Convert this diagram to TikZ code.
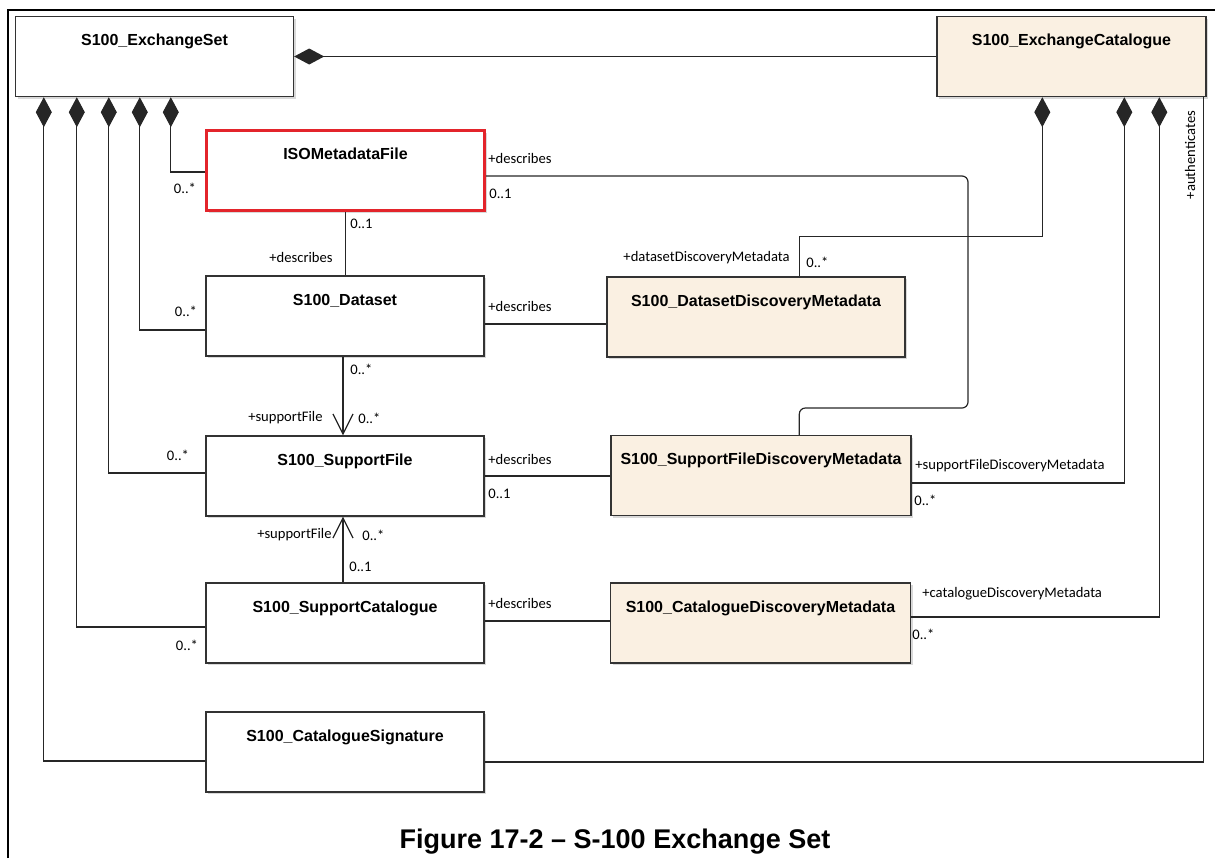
\documentclass[tikz,border=0pt]{standalone}
\usepackage{fontspec}
\setmainfont{Liberation Sans}
\newfontfamily\lblfont{Carlito}
\usetikzlibrary{arrows.meta,calc,shadows}
\definecolor{umlbeige}{HTML}{FAF0E2}
\definecolor{umlred}{HTML}{E3242B}
\tikzset{
	cls/.style={draw=black!80, line width=0.7pt, fill=white, inner xsep=0pt, inner ysep=0pt,
		text height=14.5pt, text depth=25.5pt, minimum width=139pt,
		font=\fontsize{8}{9}\selectfont\bfseries,
		drop shadow={shadow xshift=1.2pt, shadow yshift=-1.2pt, fill=black!15, opacity=1}},
	meta/.style={cls, fill=umlbeige},
	rel/.style={line width=0.6pt, draw=black!85},
	comp/.style={rel, {Diamond[length=15pt,width=8pt]}-},
	nav/.style={rel, -{Straight Barb[length=10pt,width=10pt]}},
	role/.style={font=\lblfont\fontsize{7.3}{8}\selectfont, inner sep=0pt},
}
\begin{document}
\begin{tikzpicture}[x=0.5pt,y=-0.5pt]
					\useasboundingbox (0,0) rectangle (1215,858);
					\draw[line width=1.2pt] (8,858) -- (8,10) -- (1215,10);
					
					\node[cls] (set) at (154.5,56.5) {S100\_ExchangeSet};
					\node[meta, minimum width=134.5pt] (cat) at (1071.5,56.5) {S100\_ExchangeCatalogue};
					\node[cls, draw=umlred, line width=1.5pt] (iso) at (345.5,170.5) {ISOMetadataFile};
					\node[cls] (data) at (345,316) {S100\_Dataset};
					\node[meta, minimum width=149pt] (ddm) at (756,317) {S100\_DatasetDiscoveryMetadata};
					\node[cls] (sf) at (345,476) {S100\_SupportFile};
					\node[meta, minimum width=150pt] (sfdm) at (761,475.5) {S100\_SupportFileDiscoveryMetadata};
					\node[cls] (sc) at (345,623) {S100\_SupportCatalogue};
					\node[meta, minimum width=150pt] (cdm) at (760.5,623) {S100\_CatalogueDiscoveryMetadata};
					\node[cls] (sig) at (345,752) {S100\_CatalogueSignature};
					
					\draw[comp] (set.east) -- (set.east -| cat.west);
					\draw[comp] ($(set.south west)+(29,0)$) |- ($(sig.west)+(0,9)$);
					\draw[comp] ($(set.south west)+(62,0)$) |- ($(sc.west)+(0,4)$);
					\draw[comp] ($(set.south west)+(94,0)$) |- ($(sf.west)+(0,-3)$);
					\draw[comp] ($(set.south west)+(125,0)$) |- ($(data.west)+(0,14)$);
					\draw[comp] ($(set.south west)+(156,0)$) |- ($(iso.west)+(0,1.5)$);
					
					\draw[comp] ($(cat.south west)+(106,0)$) |- ($(ddm.north west)+(193,-40)$) -- ($(ddm.north west)+(193,0)$);
					\draw[comp] ($(cat.south west)+(188,0)$) |- ($(sfdm.east)+(0,7.5)$);
					\draw[comp] ($(cat.south west)+(223,0)$) |- ($(cdm.east)+(0,-6)$);
					\draw[rel] ($(cat.south east)+(-3,0)$) |- ($(sig.east)+(0,10)$);
					
					\coordinate (turn) at (968,408);
					\draw[rel, rounded corners=3pt] ($(iso.east)+(0,5.5)$) -| (turn) -| ($(sfdm.north west)+(189,0)$);
					\draw[rel] (iso.south) -- (iso.south |- data.north);
					\draw[rel] ($(data.east)+(0,8)$) -- ($(ddm.west)+(0,7)$);
					\draw[rel] (sf.east) -- (sf.east -| sfdm.west);
					\draw[rel] ($(sc.east)+(0,-2)$) -- ($(cdm.west)+(0,-2)$);
					\draw[nav] ($(data.south)+(-2,0)$) -- ($(sf.north)+(-2,0)$);
					\draw[nav] ($(sc.north)+(-2,0)$) -- ($(sf.south)+(-2,0)$);
					
					\node[role] (m1) at (185,188) {0..*};
					\node[role, anchor=west] (r1) at (488,158) {+describes};
					\node[role, anchor=west] (m2) at (489,194) {0..1};
					\node[role, anchor=west] (m3) at (350,224) {0..1};
					\node[role, anchor=east] (r2) at (333,257) {+describes};
					\node[role] (m4) at (186,311) {0..*};
					\node[role, anchor=west] (r3) at (488,306) {+describes};
					\node[role, anchor=east] (r4) at (790,258) {+datasetDiscoveryMetadata};
					\node[role, anchor=west] (m5) at (806,262) {0..*};
					\node[role, anchor=west] (m6) at (350,369) {0..*};
					\node[role, anchor=east] (r5) at (323,418) {+supportFile};
					\node[role, anchor=west] (m7) at (358,418) {0..*};
					\node[role] (m8) at (178,455) {0..*};
					\node[role, anchor=west] (r6) at (488,459) {+describes};
					\node[role, anchor=west] (m9) at (488,494) {0..1};
					\node[role, anchor=west] (r7) at (915,466) {+supportFileDiscoveryMetadata};
					\node[role, anchor=west] (m10) at (914,500) {0..*};
					\node[role, anchor=east] (r8) at (332,535) {+supportFile};
					\node[role, anchor=west] (m11) at (362,535) {0..*};
					\node[role, anchor=west] (m12) at (349,567) {0..1};
					\node[role] (m13) at (187,645) {0..*};
					\node[role, anchor=west] (r9) at (488,603) {+describes};
					\node[role, anchor=west] (r10) at (922,594) {+catalogueDiscoveryMetadata};
					\node[role, anchor=west] (m14) at (912,634) {0..*};
					\node[role, rotate=90] (r11) at (1190,155) {+authenticates};
					
					\node[font=\fontsize{13.5}{16}\selectfont\bfseries] (caption) at (615,842) {Figure 17-2 – S-100 Exchange Set};
				\end{tikzpicture}
\end{document}
